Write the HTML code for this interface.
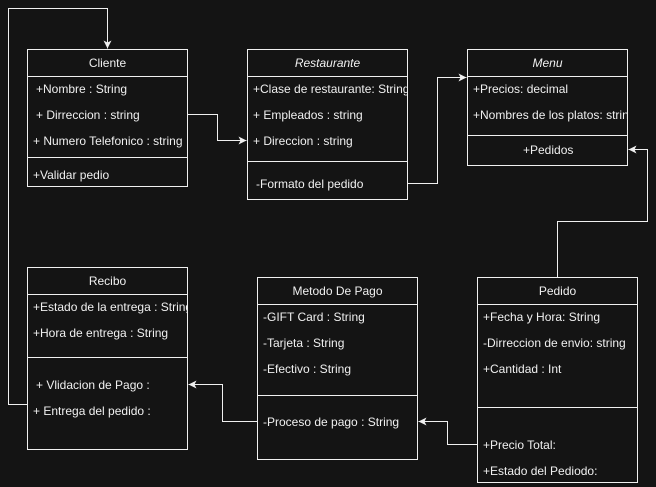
<!DOCTYPE html>
<html><head><meta charset="utf-8"><style>
body{margin:0;width:656px;height:487px;background:#141414;position:relative;overflow:hidden;font-family:"Liberation Sans",Arial,sans-serif;font-size:12px;color:#f0f0f0}
.b{position:absolute;border:1px solid #f0f0f0;box-sizing:border-box;overflow:hidden}
.h{position:absolute;left:0;right:0;top:0;height:26px;border-bottom:1px solid #f0f0f0;text-align:center;line-height:26px}
.d{position:absolute;left:0;right:0;border-top:1px solid #f0f0f0}
.t{position:absolute;white-space:nowrap;line-height:14px}
svg{position:absolute;left:0;top:0}
</style></head><body>
<svg width="656" height="487">
<defs><marker id="a" markerWidth="10" markerHeight="10" refX="8" refY="5" orient="auto" markerUnits="userSpaceOnUse"><path d="M0,1 L8,5 L0,9 L2,5z" fill="#f0f0f0"/></marker></defs>
<g fill="none" stroke="#f0f0f0" stroke-width="1" transform="translate(0.5,0.5)">
<path d="M27,404 H8 V8 H107 V48" marker-end="url(#a)"/>
<path d="M187,114 H217 V140 H246" marker-end="url(#a)"/>
<path d="M407,183 H437 V77 H466" marker-end="url(#a)"/>
<path d="M557,277 V221 H647 V149 H628" marker-end="url(#a)"/>
<path d="M477,444 H447 V421 H418" marker-end="url(#a)"/>
<path d="M257,421 H222 V384 H188" marker-end="url(#a)"/>
</g></svg>

<div class="b" style="left:27px;top:49px;width:161px;height:138px">
<div class="h">Cliente</div>
<div class="t" style="left:8px;top:32px">+Nombre : String</div>
<div class="t" style="left:8px;top:58px">+ Dirreccion : string</div>
<div class="t" style="left:5px;top:84px">+ Numero Telefonico : string</div>
<div class="d" style="top:107px"></div>
<div class="t" style="left:5px;top:118px">+Validar pedio</div>
</div>

<div class="b" style="left:247px;top:49px;width:161px;height:151px">
<div class="h" style="font-style:italic">Restaurante</div>
<div class="t" style="left:5px;top:32px">+Clase de restaurante: String</div>
<div class="t" style="left:5px;top:58px">+ Empleados : string</div>
<div class="t" style="left:5px;top:84px">+ Direccion : string</div>
<div class="d" style="top:111px"></div>
<div class="t" style="left:8px;top:127px">-Formato del pedido</div>
</div>

<div class="b" style="left:467px;top:49px;width:161px;height:117px">
<div class="h" style="font-style:italic">Menu</div>
<div class="t" style="left:5px;top:32px">+Precios: decimal</div>
<div class="t" style="left:5px;top:58px">+Nombres de los platos: string</div>
<div class="d" style="top:85px"></div>
<div class="t" style="left:55px;top:93px">+Pedidos</div>
</div>

<div class="b" style="left:27px;top:267px;width:161px;height:183px">
<div class="h">Recibo</div>
<div class="t" style="left:5px;top:32px">+Estado de la entrega : String</div>
<div class="t" style="left:5px;top:58px">+Hora de entrega : String</div>
<div class="d" style="top:89px"></div>
<div class="t" style="left:8px;top:110px">+ Vlidacion de Pago :</div>
<div class="t" style="left:5px;top:136px">+ Entrega del pedido :</div>
</div>

<div class="b" style="left:257px;top:277px;width:161px;height:183px">
<div class="h">Metodo De Pago</div>
<div class="t" style="left:5px;top:32px">-GIFT Card : String</div>
<div class="t" style="left:5px;top:58px">-Tarjeta : String</div>
<div class="t" style="left:5px;top:84px">-Efectivo : String</div>
<div class="d" style="top:117px"></div>
<div class="t" style="left:5px;top:137px">-Proceso de pago : String</div>
</div>

<div class="b" style="left:477px;top:277px;width:161px;height:206px">
<div class="h">Pedido</div>
<div class="t" style="left:5px;top:32px">+Fecha y Hora: String</div>
<div class="t" style="left:5px;top:58px">-Dirreccion de envio: string</div>
<div class="t" style="left:5px;top:84px">+Cantidad :  Int</div>
<div class="d" style="top:129px"></div>
<div class="t" style="left:5px;top:160px">+Precio Total:</div>
<div class="t" style="left:5px;top:186px">+Estado del Pediodo:</div>
</div>
</body></html>
